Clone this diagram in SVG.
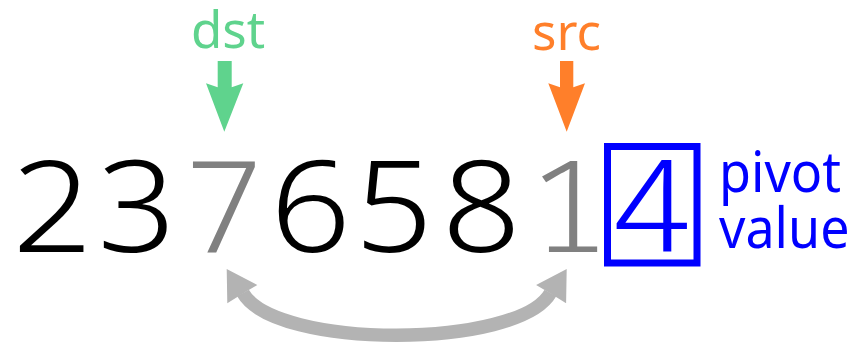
<svg xmlns="http://www.w3.org/2000/svg" width="852" height="345" viewBox="0 0 852 345">
<style>
.dig{font-family:"Noto Sans Mono","DejaVu Sans Mono",monospace;font-size:127px;font-weight:300;text-anchor:middle}
.blk{fill:#000}
.gry{fill:#808080}
.lbl{font-family:"Noto Sans","Open Sans",sans-serif;font-size:51px;text-anchor:middle}
.piv{font-family:"Noto Sans","Open Sans",sans-serif;font-size:52px;fill:#0000ff}
</style>
<rect width="852" height="345" fill="#fff"/>
<g id="digits">
<text class="dig blk" transform="translate(50,252) scale(1.13,1)">2</text>
<text class="dig blk" transform="translate(134.5,252) scale(1.13,1)">3</text>
<text class="dig gry" transform="translate(222.5,252) scale(1.13,1)">7</text>
<text class="dig blk" transform="translate(311,252) scale(1.13,1)">6</text>
<text class="dig blk" transform="translate(394,252) scale(1.13,1)">5</text>
<text class="dig blk" transform="translate(482.5,252) scale(1.13,1)">8</text>
<text class="dig gry" transform="translate(568,252) scale(1.13,1)">1</text>
</g>
<g id="pivot">
<rect x="607.5" y="146.5" width="89.5" height="116.5" fill="none" stroke="#0000ff" stroke-width="7"/>
<text class="dig" fill="#0000ff" transform="translate(651.7,252) scale(1.13,1)">4</text>
</g>
<g id="pivot-label">
<text class="piv" transform="translate(719,191.7) scale(1,1.07)">pivot</text>
<text class="piv" transform="translate(719,248.3) scale(1,1.07)">value</text>
</g>
<g id="dst">
<text class="lbl" x="228" y="48.3" fill="#5fd38d">dst</text>
</g>
<g id="src">
<text class="lbl" x="566.5" y="50" fill="#ff7f2a">src</text>
</g>
<g id="connectors">
<polygon fill="#5fd38d" points="217.7,61 217.7,87.3 206,83.3 224.3,131.7 243.3,83.3 231.7,87.3 231.7,61"/>
<polygon fill="#ff7f2a" points="560,61 560,87.3 548.3,83.3 566.7,131.7 585,83.3 573.3,87.3 573.3,61"/>
<path d="M243,293 C275,349.3 518,349.3 550.4,293" fill="none" stroke="#b3b3b3" stroke-width="13.5"/>
<polygon fill="#b3b3b3" points="226.7,269 227.3,303.3 244.5,292.5 257.3,285"/>
<polygon fill="#b3b3b3" points="566.7,269 566.1,303.3 548.9,292.5 536.1,285"/>
</g>
</svg>
